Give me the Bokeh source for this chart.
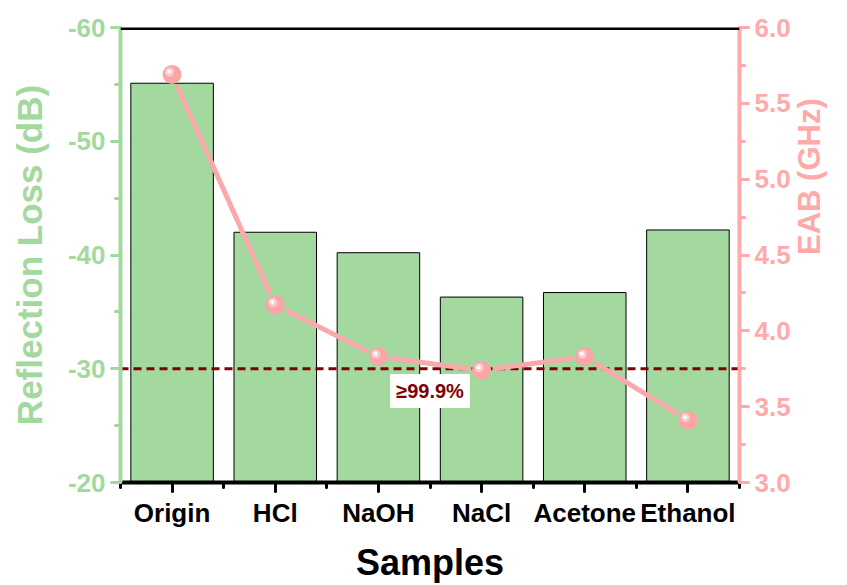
from math import hypot, pi

from bokeh.plotting import figure
from bokeh.models import (Range1d, LinearAxis, FixedTicker, NumeralTickFormatter,
                          Label, Span, ColumnDataSource)
from bokeh.transform import dodge
from bokeh.embed import file_html
from bokeh.resources import INLINE

# ---- data ----
samples = ["Origin", "HCl", "NaOH", "NaCl", "Acetone", "Ethanol"]
rl_db = [-55.1, -42.0, -40.2, -36.3, -36.7, -42.2]      # minimum reflection loss
eab_ghz = [5.69, 4.17, 3.83, 3.74, 3.83, 3.41]          # effective absorption bandwidth
rl_ticks = [-60, -50, -40, -30, -20]
eab_ticks = [3.0, 3.5, 4.0, 4.5, 5.0, 5.5, 6.0]
threshold_db = -30
threshold_text = "≥99.9%"

# ---- style ----
GREEN = "#A3D89E"
PINK = "#FFAAAA"
LINE_PINK = "#F9A9A9"
DARK_RED = "#800000"
FONT = "Liberation Sans"

W, H = 847, 585
BL, BR, BT, BB = 120, 107, 27, 101
FW, FH = W - BL - BR, H - BT - BB

n = len(samples)
xs = [i + 0.5 for i in range(n)]
src = ColumnDataSource(dict(x=xs, rl=rl_db, eab=eab_ghz))

p = figure(width=W, height=H, output_backend="svg", toolbar_location=None,
           x_range=Range1d(0, n), y_range=Range1d(rl_ticks[-1], rl_ticks[0]),
           min_border_left=BL, min_border_right=BR, min_border_top=BT,
           min_border_bottom=BB)
p.extra_y_ranges = {"eab": Range1d(eab_ticks[0], eab_ticks[-1])}
p.xgrid.visible = False
p.ygrid.visible = False
p.outline_line_color = None
p.background_fill_color = "white"
p.border_fill_color = "white"

# pixel scales of the frame, used for offsets and label placement
sx = FW / (p.x_range.end - p.x_range.start)
er = p.extra_y_ranges["eab"]
sy = FH / (er.end - er.start)
sy_rl = FH / (p.y_range.start - p.y_range.end)


def px_to_x(px):
    return p.x_range.start + (px - BL) / sx


def py_to_rl(py):
    return p.y_range.start - (BT + FH - py) / sy_rl


# ---- bars: reflection loss ----
p.vbar(x="x", top="rl", bottom=rl_ticks[-1], width=0.8, source=src,
       fill_color=GREEN, line_color="black", line_width=1)

# ---- threshold line ----
p.line(x=[p.x_range.start, p.x_range.end], y=[threshold_db, threshold_db],
       line_color=DARK_RED, line_width=3, line_dash="8 5")

# ---- EAB line, with a small gap around each marker ----
gap = 14
x0, y0, x1, y1 = [], [], [], []
for i in range(n - 1):
    dxp = (xs[i + 1] - xs[i]) * sx
    dyp = (eab_ghz[i + 1] - eab_ghz[i]) * sy
    L = hypot(dxp, dyp)
    ux, uy = dxp / L, dyp / L
    x0.append(xs[i] + ux * gap / sx)
    y0.append(eab_ghz[i] + uy * gap / sy)
    x1.append(xs[i + 1] - ux * gap / sx)
    y1.append(eab_ghz[i + 1] - uy * gap / sy)
p.segment(x0=x0, y0=y0, x1=x1, y1=y1, line_color=LINE_PINK, line_width=5,
          line_cap="round", y_range_name="eab")

# spherical markers: base disc plus a soft highlight
p.scatter(x="x", y="eab", source=src, size=19, fill_color="#FBA5A8",
          line_color=None, y_range_name="eab")
p.scatter(x=dodge("x", -2.5 / sx), y=dodge("eab", 2.5 / sy), source=src, size=9,
          fill_color="#FFD4D6", fill_alpha=0.8, line_color=None, y_range_name="eab")
p.scatter(x=dodge("x", -3 / sx), y=dodge("eab", 3 / sy), source=src, size=4,
          fill_color="white", line_color=None, y_range_name="eab")

# label for the threshold
p.add_layout(Label(x=px_to_x(430), y=py_to_rl(392), text=threshold_text,
                   text_align="center", text_baseline="middle", text_color=DARK_RED,
                   text_font=FONT, text_font_style="bold", text_font_size="20px",
                   background_fill_color="white", padding=6))

# top frame line
p.add_layout(Span(location=rl_ticks[0], dimension="width", line_color="black",
                  line_width=5))


def style_axis(ax, color, label_px):
    ax.axis_line_color = color
    ax.axis_line_width = 4
    ax.major_tick_line_color = color
    ax.major_tick_line_width = 3
    ax.major_tick_line_cap = "round"
    ax.major_tick_in = 0
    ax.major_tick_out = 9
    ax.minor_tick_line_color = color
    ax.minor_tick_line_width = 3
    ax.minor_tick_line_cap = "round"
    ax.minor_tick_in = 0
    ax.minor_tick_out = 5
    ax.major_label_text_color = color
    ax.major_label_text_font = FONT
    ax.major_label_text_font_style = "bold"
    ax.major_label_text_font_size = label_px
    ax.major_label_standoff = 6
    ax.axis_label_text_color = color
    ax.axis_label_text_font = FONT
    ax.axis_label_text_font_style = "bold"


# ---- left axis ----
yl = p.yaxis[0]
yl.ticker = FixedTicker(ticks=rl_ticks,
                        minor_ticks=[(a + b) / 2 for a, b in zip(rl_ticks, rl_ticks[1:])])
yl.formatter = NumeralTickFormatter(format="0")
style_axis(yl, GREEN, "26px")
yl.axis_label = "Reflection Loss (dB)"
yl.axis_label_text_font_size = "35px"
yl.axis_label_standoff = 16

# ---- right axis ----
yr = LinearAxis(y_range_name="eab")
yr.ticker = FixedTicker(ticks=eab_ticks,
                        minor_ticks=[(a + b) / 2 for a, b in zip(eab_ticks, eab_ticks[1:])])
yr.formatter = NumeralTickFormatter(format="0.0")
style_axis(yr, PINK, "26px")
yr.axis_label = "EAB (GHz)"
yr.axis_label_text_font_size = "31px"
yr.axis_label_standoff = 16
if hasattr(yr, "axis_label_orientation"):
    # read bottom-to-top, like the left title
    yr.axis_label_orientation = pi / 2
p.add_layout(yr, "right")

# ---- bottom axis ----
xa = p.xaxis[0]
xa.ticker = FixedTicker(ticks=xs, minor_ticks=list(range(n + 1)))
xa.major_label_overrides = {x: s for x, s in zip(xs, samples)}
style_axis(xa, "black", "26px")
xa.axis_label = "Samples"
xa.axis_label_text_font_size = "36px"
xa.axis_label_standoff = 11

open("out.html", "w").write(file_html(p, INLINE))
